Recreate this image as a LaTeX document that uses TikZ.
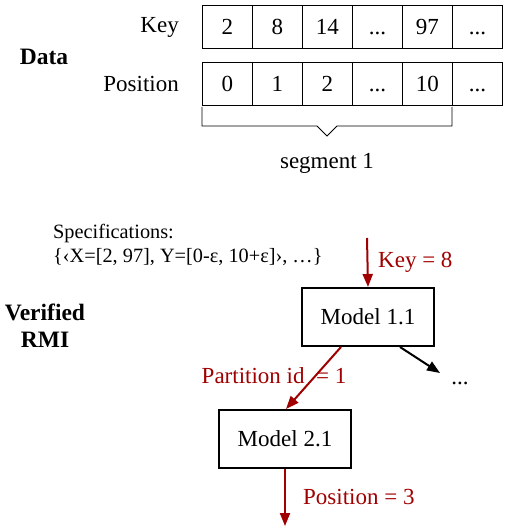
\documentclass[tikz,border=0pt]{standalone}
\usepackage{fontspec}
\setmainfont{Liberation Serif}
\usetikzlibrary{arrows.meta}
\definecolor{dred}{RGB}{160,0,0}
\begin{document}
\begin{tikzpicture}[x=1pt,y=-1pt,
  cell/.style={draw, line width=0.9pt, minimum width=50pt, minimum height=43pt, inner sep=0pt, text height=16pt, text depth=0pt, anchor=north west, font=\fontsize{23}{27}\selectfont},
  lbl/.style={inner sep=0pt, font=\fontsize{23}{27}\selectfont},
  side/.style={inner sep=0pt, font=\fontsize{23.5}{27}\selectfont\bfseries},
  model/.style={draw, line width=2pt, minimum width=132pt, minimum height=58pt, inner sep=0pt, font=\fontsize{23}{27}\selectfont},
  redlbl/.style={inner sep=0pt, text=dred, font=\fontsize{23}{27}\selectfont},
  redarrow/.style={draw=dred, line width=2pt, -{Triangle[length=13pt, width=10pt]}},
  blackarrow/.style={draw=black, line width=2pt, -{Triangle[length=13pt, width=10pt]}},
  spec/.style={inner sep=0pt, anchor=west, font=\fontsize{20.3}{24}\selectfont}]
\useasboundingbox (0,0) rectangle (506,529);
% Data table
\node[cell] (k0) at (202,5) {2};
\node[cell] (k1) at (252,5) {8};
\node[cell] (k2) at (302,5) {14};
\node[cell] (k3) at (352,5) {...};
\node[cell] (k4) at (402,5) {97};
\node[cell] (k5) at (452,5) {...};
\node[cell] (p0) at (202,62) {0};
\node[cell] (p1) at (252,62) {1};
\node[cell] (p2) at (302,62) {2};
\node[cell] (p3) at (352,62) {...};
\node[cell] (p4) at (402,62) {10};
\node[cell] (p5) at (452,62) {...};
\node[lbl, anchor=east] (keylbl) at (179,27) {Key};
\node[lbl, anchor=east] (poslbl) at (179,84) {Position};
\node[side] (data) at (44,57) {Data};
% brace
\draw[line width=0.9pt] (202,107) -- (202,126) -- (317,126) -- (327,136) -- (337,126) -- (452,126) -- (452,107);
\node[lbl] (seg) at (327,163) {segment 1};
% specifications
\node[spec] (spec1) at (53,234) {Specifications:};
\node[spec] (spec2) at (53,257) {\{‹X=[2, 97], Y=[0-ε, 10+ε]›, …\}};
% RMI
\node[side] (ver) at (45,312) {Verified};
\node[side] (rmi) at (45,340) {RMI};
\node[model] (m1) at (368,317) {Model 1.1};
\node[model] (m2) at (285,439) {Model 2.1};
\coordinate (kin) at (367,238);
\coordinate (more) at (440,373);
\coordinate (out) at (285,526);
\draw[redarrow] (kin) -- (m1.north);
\node[redlbl, anchor=west] (keyeq) at (378,262) {Key = 8};
\draw[redarrow] ([xshift=-27pt]m1.south) -- ([xshift=1pt]m2.north);
\node[redlbl] (part) at (274,376) {Partition id\ \ = 1};
\draw[blackarrow] ([xshift=32pt]m1.south) -- (more);
\node[lbl] (dots) at (460,383) {...};
\draw[redarrow] (m2.south) -- (out);
\node[redlbl, anchor=west] (poseq) at (303,497) {Position = 3};
\end{tikzpicture}
\end{document}
